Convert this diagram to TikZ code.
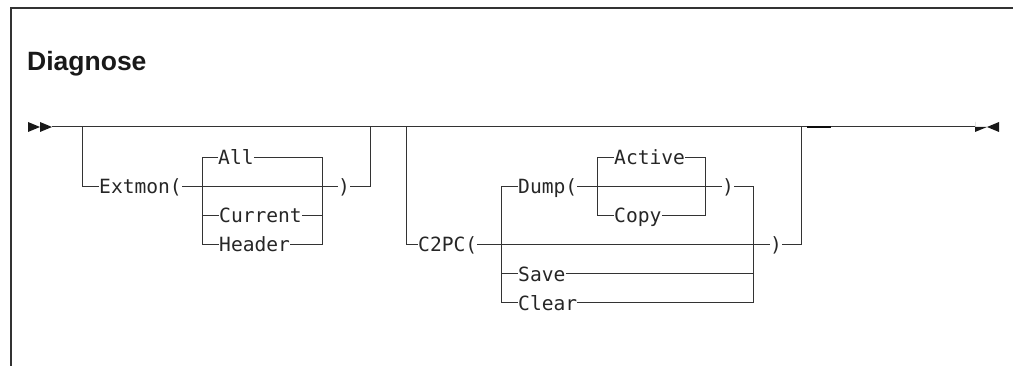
\documentclass[tikz,border=0pt]{standalone}
\usepackage{fontspec}
\newfontfamily\monof{DejaVu Sans Mono}
\newfontfamily\titlef{Liberation Sans}
\begin{document}
\begin{tikzpicture}[x=1pt,y=-1pt,
  rail/.style={draw=black!80, line width=1pt},
  lbl/.style={font=\monof\fontsize{19.6}{19.6}\selectfont, text=black!85, inner sep=0pt, text height=17.3pt, text depth=3pt, anchor=west},
  tip/.style={fill=black!90},
  frame/.style={draw=black!80, line width=1.8pt}]
\useasboundingbox (0,0) rectangle (1013,366);
% frame
\draw[frame] (11,366) -- (11,8) -- (1013,8);
% title
\node[font=\titlef\bfseries\fontsize{26.5}{26.5}\selectfont, anchor=base west, inner sep=0pt, text=black!90] (title) at (27,71) {Diagnose};
% labels
\node[lbl] (extmon) at (99,186.5) {Extmon(};
\node[lbl] (all) at (218,157.5) {All};
\node[lbl] (current) at (219,215.5) {Current};
\node[lbl] (header) at (219,244.5) {Header};
\node[lbl] (rpA) at (338,186.5) {)};
\node[lbl] (c2pc) at (418,244.5) {C2PC(};
\node[lbl] (dump) at (518,186.5) {Dump(};
\node[lbl] (save) at (518,274) {Save};
\node[lbl] (clear) at (518,303) {Clear};
\node[lbl] (active) at (614,157.5) {Active};
\node[lbl] (copy) at (614,215.5) {Copy};
\node[lbl] (rpB) at (722,186.5) {)};
\node[lbl] (rpC) at (770,244.5) {)};
% coordinates
\coordinate (start) at (52,127);
\coordinate (end) at (975,127);
\coordinate (x1) at (82,127);
\coordinate (x2) at (370,127);
\coordinate (aL) at (202,244.5);
\coordinate (aR) at (322,244.5);
\coordinate (c1) at (406,127);
\coordinate (c2) at (801,127);
\coordinate (dL) at (501,303);
\coordinate (dR) at (753,303);
\coordinate (pL) at (597,215.5);
\coordinate (pR) at (705,215.5);
\coordinate (k1) at (807,127);
\coordinate (k2) at (831,127);
% arrows
\fill[tip] (28,122) -- (40,127) -- (28,132) -- cycle;
\fill[tip] (40,122) -- (start) -- (40,132) -- cycle;
\fill[tip] (end) -- (987,127) -- (975,132) -- (975,122) -- cycle;
\fill[tip] (999,122) -- (987,127) -- (999,132) -- cycle;
% main line
\draw[rail] (start) -- (end);
\draw[rail, line width=2.5pt, draw=black!95] (k1) -- (k2);
% Extmon
\draw[rail] (x1) |- (extmon.west);
\draw[rail] (extmon.east) -- (rpA.west);
\draw[rail] (rpA.east) -| (x2);
\draw[rail] (all.west) -| (aL) -- (header.west);
\draw[rail] (aL |- current.west) -- (current.west);
\draw[rail] (all.east) -| (aR) -- (header.east);
\draw[rail] (current.east) -- (aR |- current.east);
% C2PC
\draw[rail] (c1) |- (c2pc.west);
\draw[rail] (c2pc.east) -- (rpC.west);
\draw[rail] (rpC.east) -| (c2);
\draw[rail] (dump.west) -| (dL) -- (clear.west);
\draw[rail] (dL |- save.west) -- (save.west);
\draw[rail] (rpB.east) -| (dR) -- (clear.east);
\draw[rail] (save.east) -- (dR |- save.east);
\draw[rail] (dump.east) -- (rpB.west);
\draw[rail] (active.west) -| (pL) -- (copy.west);
\draw[rail] (active.east) -| (pR) -- (copy.east);
\end{tikzpicture}
\end{document}
